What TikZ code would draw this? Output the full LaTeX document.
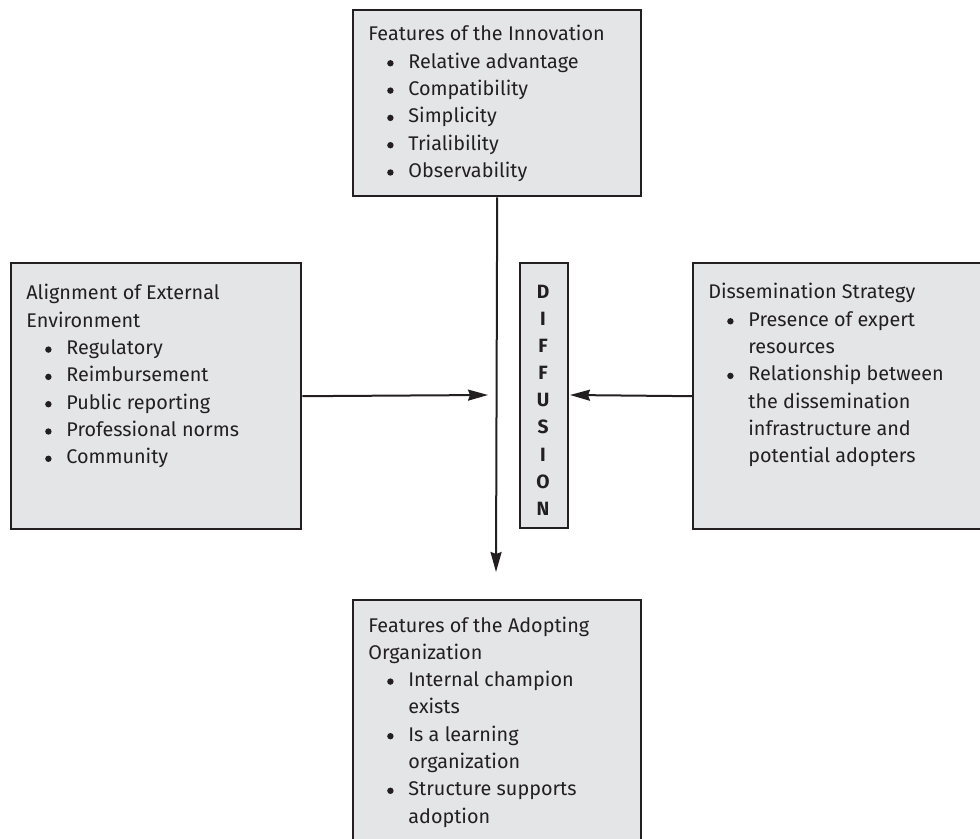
\documentclass[tikz,border=0pt]{standalone}
\usepackage{fontspec}
\setmainfont{Fira Sans}
\usetikzlibrary{arrows.meta}

\definecolor{ink}{HTML}{231F20}
\definecolor{panel}{HTML}{E4E5E7}

% round bullet dot, sitting at mid x-height
\newcommand{\dotmark}{\tikz[baseline=0pt]{\fill[ink] (0pt,2.5pt) circle[radius=1.6pt]; \path (-1.6pt,0pt) (1.6pt,0pt);}}
% one bullet item line, and a continuation line under its text
\newcommand{\bitem}[1]{\hspace*{9.4pt}\makebox[10.6pt][l]{\dotmark}#1}
\newcommand{\bcont}[1]{\hspace*{20pt}#1}
% block of left-aligned lines, first baseline on the anchor
\newcommand{\lines}[2]{\parbox[t]{#1}{\fontsize{9.9pt}{13.65pt}\selectfont\raggedright #2}}

\tikzset{
  panelbox/.style={draw=ink, line width=1.2pt, fill=panel, inner sep=0pt, anchor=north west},
  label/.style={inner sep=0pt, anchor=base west, text=ink},
  arr/.style={draw=ink, line width=1pt, -{Stealth[length=10pt, width=5.5pt, inset=1pt]}}
}

\begin{document}
\begin{tikzpicture}[x=0.5pt, y=-0.5pt]
  \clip (0,0) rectangle (980,839);

  % boxes
  \node[panelbox, minimum width=144pt, minimum height=93pt]   (top)    at (352,9)   {};
  \node[panelbox, minimum width=145pt, minimum height=133pt]  (left)   at (10,262)  {};
  \node[panelbox, minimum width=145pt, minimum height=133pt]  (right)  at (692,262) {};
  \node[panelbox, minimum width=24pt,  minimum height=132.5pt] (diff)  at (519,262) {};
  \node[panelbox, minimum width=144pt, minimum height=140pt]  (bottom) at (352,599) {};

  % connectors
  \coordinate (vtip) at (496,572);
  \coordinate (ltip) at (488,395);
  \coordinate (rtip) at (570,395);
  \draw[arr] (top.south) -- (vtip);
  \draw[arr] (left.east) -- (ltip);
  \draw[arr] (right.west) -- (rtip);

  % texts
  \node[label] (toptext) at (368,41) {\lines{135pt}{%
    Features of the Innovation\\
    \bitem{Relative advantage}\\
    \bitem{Compatibility}\\
    \bitem{Simplicity}\\
    \bitem{Trialibility}\\
    \bitem{Observability}}};

  \node[label] (lefttext) at (26,300) {\lines{135pt}{%
    Alignment of External\\
    Environment\\
    \bitem{Regulatory}\\
    \bitem{Reimbursement}\\
    \bitem{Public reporting}\\
    \bitem{Professional norms}\\
    \bitem{Community}}};

  \node[label] (righttext) at (708,299) {\lines{135pt}{%
    Dissemination Strategy\\
    \bitem{Presence of expert}\\
    \bcont{resources}\\
    \bitem{Relationship between}\\
    \bcont{the dissemination}\\
    \bcont{infrastructure and}\\
    \bcont{potential adopters}}};

  \node[label] (bottomtext) at (368,632) {\lines{135pt}{%
    Features of the Adopting\\
    Organization\\
    \bitem{Internal champion}\\
    \bcont{exists}\\
    \bitem{Is a learning}\\
    \bcont{organization}\\
    \bitem{Structure supports}\\
    \bcont{adoption}}};

  \node[inner sep=0pt, anchor=base, text=ink] (difftext) at (543,298.5)
    {\parbox[t]{20pt}{\centering\fontsize{9.6pt}{13.55pt}\selectfont\bfseries
      D\\I\\F\\F\\U\\S\\I\\O\\N}};
\end{tikzpicture}
\end{document}
